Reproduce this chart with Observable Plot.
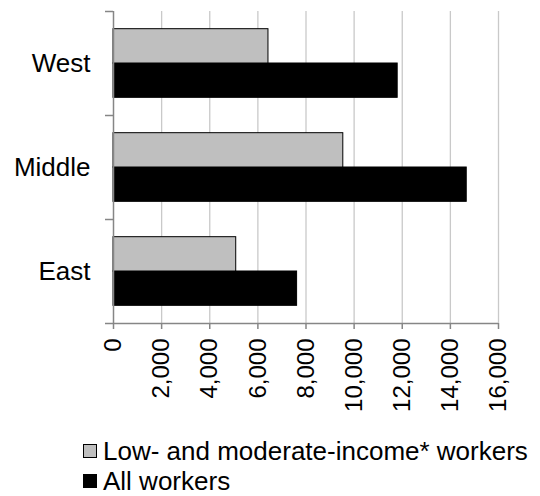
<!DOCTYPE html>
<html>
<head>
<meta charset="utf-8">
<script src="https://cdn.jsdelivr.net/npm/d3@7"></script>
<script src="https://cdn.jsdelivr.net/npm/@observablehq/plot@0.6"></script>
<style>
  html, body { margin: 0; padding: 0; background: #fff; overflow: hidden; }
  body { width: 540px; height: 496px; font-family: "Liberation Sans", Arial, sans-serif; color: #000; }
  #chart svg { display: block; }
  .legend { padding: 4px 0 0 83px; }
  .legend .row { display: flex; align-items: center; height: 30px; font-size: 26px; line-height: 30px; white-space: nowrap; }
  .legend .sw { width: 12px; height: 12px; border: 1px solid #000; margin-right: 6px; flex: none; }
</style>
</head>
<body>
<div id="chart"></div>
<div class="legend" id="legend"></div>
<script>
// Categories listed bottom to top
const regions = ["East", "Middle", "West"];
const lowModIncome = [5100, 9550, 6440];
const allWorkers = [7630, 14680, 11810];
const seriesNames = ["Low- and moderate-income* workers", "All workers"];
const seriesColors = ["#bfbfbf", "#000000"];
const xTicks = [0, 2000, 4000, 6000, 8000, 10000, 12000, 14000, 16000];

const axisGray = "#868686";
const gridGray = "#c9c9c9";

// bar layout within each category slot (fractions of a slot)
const barLow = 0.17, barMid = 0.5, barHigh = 0.83;

const rows = [];
regions.forEach((r, i) => {
  rows.push({region: r, series: seriesNames[1], value: allWorkers[i], y1: i + barLow, y2: i + barMid});
  rows.push({region: r, series: seriesNames[0], value: lowModIncome[i], y1: i + barMid, y2: i + barHigh});
});
const slotEdges = d3.range(regions.length + 1);
const slotCenters = regions.map((r, i) => i + 0.5);

const chart = Plot.plot({
  width: 540,
  height: 432,
  marginTop: 11,
  marginBottom: 109,
  marginLeft: 113,
  marginRight: 42,
  style: {fontFamily: "'Liberation Sans', Arial, sans-serif", fontSize: "24px", color: "#000", background: "#fff"},
  x: {type: "linear", domain: [0, 16000]},
  y: {type: "linear", domain: [0, regions.length]},
  color: {domain: seriesNames, range: seriesColors},
  marks: [
    Plot.gridX(xTicks.filter(d => d > 0), {stroke: gridGray, strokeOpacity: 1, strokeWidth: 1.3}),
    Plot.rect(rows, {x1: () => 0, x2: "value", y1: "y1", y2: "y2", fill: "series", stroke: "#000", strokeWidth: 1}),
    Plot.ruleX([0], {stroke: axisGray, strokeWidth: 1.5}),
    Plot.ruleY([0], {stroke: axisGray, strokeWidth: 1.5}),
    Plot.axisY({ticks: slotEdges, tickSize: 8, tickFormat: () => "", stroke: axisGray, strokeWidth: 1.5, label: null}),
    Plot.axisY({ticks: slotCenters, tickSize: 0, tickPadding: 23, tickFormat: d => regions[Math.floor(d)], fontSize: 26, label: null}),
    Plot.axisX({ticks: xTicks, tickSize: 6, tickPadding: 9, tickRotate: -90, tickFormat: d3.format(","), stroke: axisGray, strokeWidth: 1.5, fontSize: 24, label: null})
  ]
});
document.getElementById("chart").appendChild(chart);

const legend = document.getElementById("legend");
seriesNames.forEach((name, i) => {
  const row = document.createElement("div");
  row.className = "row";
  const sw = document.createElement("span");
  sw.className = "sw";
  sw.style.background = seriesColors[i];
  row.appendChild(sw);
  const t = document.createElement("span");
  t.textContent = name;
  row.appendChild(t);
  legend.appendChild(row);
});
</script>
</body>
</html>
